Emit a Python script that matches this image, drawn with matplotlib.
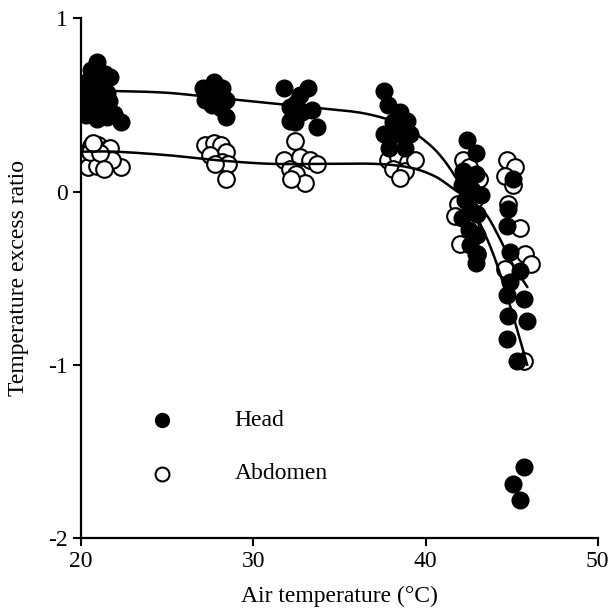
import matplotlib
matplotlib.use("Agg")
import matplotlib.pyplot as plt
import numpy as np

plt.rcParams["font.family"] = ["Liberation Serif", "DejaVu Serif"]
plt.rcParams["axes.unicode_minus"] = False

# head (filled) measurements
head_x = [20.9, 20.6, 21.4, 20.4, 21.1, 21.7, 20.2, 20.9, 20.8, 21.5, 20.3, 21.0,
          21.6, 20.5, 21.2, 20.3, 20.9, 21.5, 22.3, 20.6, 21.3, 20.2, 21.9, 20.8,
          27.1, 27.7, 28.2, 27.4, 28.0, 28.4, 27.6, 28.1, 28.4, 27.2,
          31.8, 33.2, 32.5, 32.8, 32.4, 33.7, 32.1, 33.4, 32.1, 32.7,
          37.6, 37.8, 38.5, 38.9, 38.1, 37.6, 38.4, 39.1, 37.9, 38.8,
          42.4, 42.9, 42.2, 42.9, 42.1, 42.7, 43.2, 42.3, 42.6, 43.0, 42.1, 42.5,
          43.0, 42.6, 42.9, 42.9,
          45.1, 44.8, 44.7, 44.9, 45.5, 44.9, 44.7, 45.7, 44.8, 45.9, 44.7, 45.3,
          45.7, 45.1, 45.5]
head_y = [0.75, 0.70, 0.68, 0.64, 0.62, 0.66, 0.58, 0.58, 0.54, 0.57, 0.52, 0.50,
          0.52, 0.46, 0.47, 0.44, 0.42, 0.43, 0.40, 0.55, 0.60, 0.48, 0.45, 0.65,
          0.60, 0.63, 0.60, 0.56, 0.55, 0.53, 0.50, 0.48, 0.43, 0.53,
          0.60, 0.60, 0.51, 0.46, 0.40, 0.37, 0.41, 0.47, 0.49, 0.56,
          0.58, 0.50, 0.46, 0.41, 0.40, 0.33, 0.33, 0.33, 0.25, 0.25,
          0.30, 0.22, 0.12, 0.10, 0.04, 0.01, -0.02, -0.05, -0.10, -0.13, -0.15, -0.22,
          -0.25, -0.31, -0.36, -0.41,
          0.07, -0.10, -0.20, -0.35, -0.46, -0.52, -0.60, -0.62, -0.72, -0.75, -0.85, -0.98,
          -1.59, -1.69, -1.78]

# abdomen (open) measurements
abd_x = [20.3, 20.6, 21.0, 21.4, 20.2, 20.8, 21.2, 21.7, 20.4, 20.9, 21.5, 22.3,
         21.8, 20.5, 21.1, 20.7, 21.3,
         27.2, 27.7, 28.1, 28.4, 27.5, 28.2, 28.5, 27.8, 28.4,
         32.4, 31.8, 32.7, 33.3, 33.7, 32.1, 32.5, 33.0, 32.2,
         37.8, 38.4, 39.0, 38.1, 38.8, 38.5, 39.4,
         42.2, 42.5, 43.1, 41.9, 41.7, 42.0, 43.0, 42.4, 42.8, 42.6,
         44.7, 45.2, 44.6, 45.1, 44.8, 45.5, 45.8, 46.1, 44.6, 45.7]
abd_y = [0.22, 0.26, 0.27, 0.24, 0.17, 0.20, 0.18, 0.25, 0.14, 0.15, 0.16, 0.14,
         0.18, 0.23, 0.22, 0.28, 0.13,
         0.27, 0.28, 0.27, 0.23, 0.21, 0.17, 0.16, 0.16, 0.07,
         0.29, 0.18, 0.20, 0.18, 0.16, 0.13, 0.10, 0.05, 0.07,
         0.18, 0.20, 0.17, 0.13, 0.12, 0.08, 0.18,
         0.18, 0.14, 0.07, -0.07, -0.14, -0.30, -0.36, 0.02, -0.05, -0.20,
         0.18, 0.14, 0.09, 0.04, -0.07, -0.21, -0.36, -0.42, -0.45, -0.98]

# fitted curves
head_fit_x = [20.0, 22.0, 25.0, 28.0, 31.0, 34.0, 36.5, 38.5, 40.0, 41.0,
              42.0, 43.0, 44.0, 45.0, 45.9]
head_fit_y = [0.58, 0.58, 0.57, 0.54, 0.51, 0.48, 0.45, 0.39, 0.29, 0.19,
              0.04, -0.15, -0.38, -0.69, -1.00]
abd_fit_x = [20.0, 22.0, 25.0, 28.0, 31.0, 34.0, 37.0, 39.0, 40.5, 41.7,
             42.6, 43.5, 44.3, 45.0, 45.9]
abd_fit_y = [0.23, 0.23, 0.21, 0.18, 0.16, 0.16, 0.16, 0.14, 0.09, 0.01,
             -0.05, -0.13, -0.27, -0.41, -0.55]


def smooth(xs, ys, n=20):
    # Catmull-Rom through the read points, just for drawing
    p = np.column_stack([xs, ys])
    p = np.vstack([p[0], p, p[-1]])
    out = []
    for i in range(1, len(p) - 2):
        p0, p1, p2, p3 = p[i - 1], p[i], p[i + 1], p[i + 2]
        t = np.linspace(0, 1, n, endpoint=False)[:, None]
        out.append(0.5 * (2 * p1 + (-p0 + p2) * t + (2 * p0 - 5 * p1 + 4 * p2 - p3) * t ** 2
                          + (-p0 + 3 * p1 - 3 * p2 + p3) * t ** 3))
    out.append(p[-2][None, :])
    out = np.vstack(out)
    return out[:, 0], out[:, 1]


fig = plt.figure(figsize=(6.1, 6.1), dpi=100)
ax = fig.add_axes([0.133, 0.118, 0.847, 0.852])

ax.plot(abd_x, abd_y, "o", ms=12, mfc="white", mec="black", mew=1.5, ls="none", zorder=2)
ax.plot(head_x, head_y, "o", ms=12, mfc="black", mec="black", mew=1.0, ls="none", zorder=3)
ax.plot(*smooth(head_fit_x, head_fit_y), color="black", lw=1.8, zorder=4)
ax.plot(*smooth(abd_fit_x, abd_fit_y), color="black", lw=1.8, zorder=4)

# legend drawn by hand like the original
ax.plot([24.7], [-1.32], "o", ms=10, mfc="black", mec="black")
ax.plot([24.7], [-1.63], "o", ms=10, mfc="white", mec="black", mew=1.5)
ax.text(28.9, -1.32, "Head", fontsize=17, va="center")
ax.text(28.9, -1.63, "Abdomen", fontsize=17, va="center")

ax.set_xlim(20, 50)
ax.set_ylim(-2, 1)
ax.set_xticks([20, 30, 40, 50])
ax.set_yticks([-2, -1, 0, 1])
ax.spines["top"].set_visible(False)
ax.spines["right"].set_visible(False)
for s in ["left", "bottom"]:
    ax.spines[s].set_linewidth(1.6)
ax.tick_params(direction="out", length=6, width=1.5, labelsize=17)
ax.set_xlabel("Air temperature (°C)", fontsize=17, labelpad=10)
ax.set_ylabel("Temperature excess ratio", fontsize=17, labelpad=14)

fig.savefig("out.png", dpi=100)
